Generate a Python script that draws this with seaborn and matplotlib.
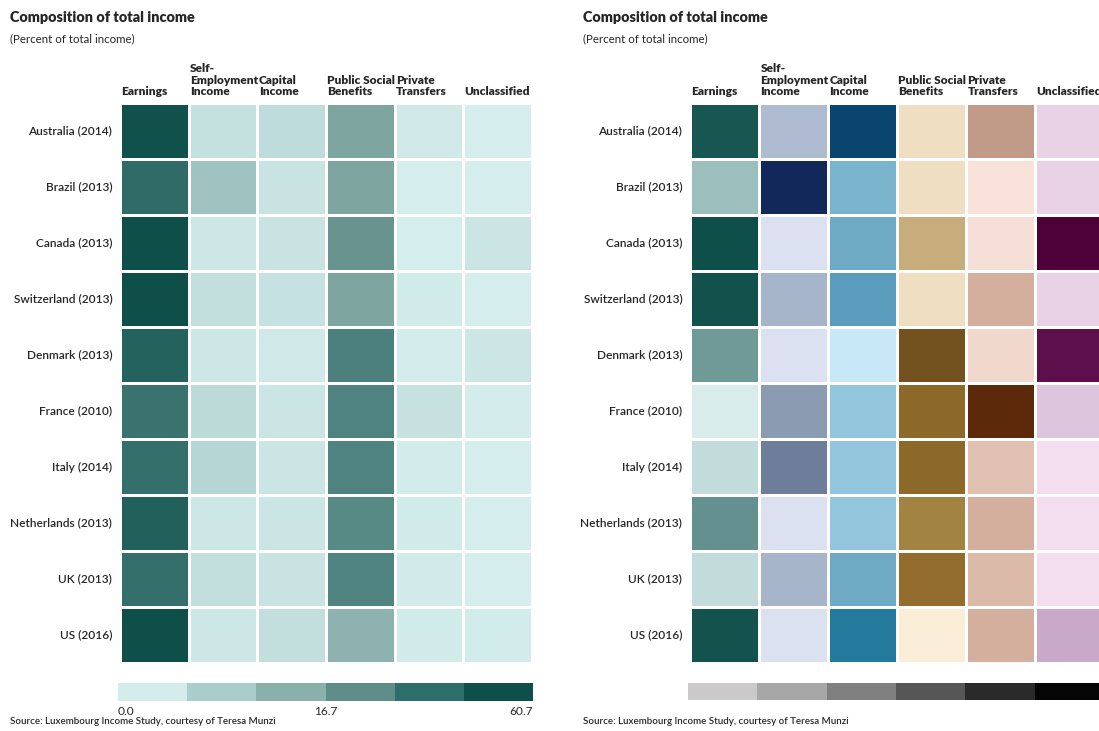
import numpy as np
import pandas as pd
import seaborn as sns
import matplotlib.pyplot as plt
from matplotlib.colors import LinearSegmentedColormap, ListedColormap, BoundaryNorm, TwoSlopeNorm
from matplotlib.cm import ScalarMappable

sns.set_style("white")
plt.rcParams["font.family"] = ["Lato", "DejaVu Sans"]

countries = ["Australia (2014)", "Brazil (2013)", "Canada (2013)", "Switzerland (2013)",
             "Denmark (2013)", "France (2010)", "Italy (2014)", "Netherlands (2013)",
             "UK (2013)", "US (2016)"]
headers = ["Earnings", "Self-\nEmployment\nIncome", "Capital\nIncome",
           "Public Social\nBenefits", "Private\nTransfers", "Unclassified"]

# percent of total income
earnings = [60.0, 49.0, 60.7, 60.5, 53.5, 44.0, 46.5, 54.5, 46.5, 60.4]
self_emp = [6.0, 13.5, 3.5, 6.5, 3.5, 8.5, 10.0, 3.5, 6.5, 3.5]
capital = [7.5, 4.6, 4.85, 5.4, 2.5, 4.1, 4.1, 4.1, 4.85, 6.45]
public = [17.5, 17.5, 23.0, 17.5, 33.0, 30.5, 30.5, 28.0, 30.0, 15.5]
private = [2.5, 0.6, 0.7, 2.0, 0.9, 5.5, 1.5, 2.0, 1.7, 2.0]
unclass = [0.6, 0.6, 4.0, 0.6, 3.7, 0.9, 0.3, 0.3, 0.3, 1.5]

legend_ticks = ["0.0", "16.7", "60.7"]

df = pd.DataFrame({"Earnings": earnings, "Self-Employment Income": self_emp,
                   "Capital Income": capital, "Public Social Benefits": public,
                   "Private Transfers": private, "Unclassified": unclass},
                  index=countries)

# shared teal scale (left)
teal = LinearSegmentedColormap.from_list("teal", [
    (0.0, "#d6eeee"), (0.105, "#cde6e6"), (0.30, "#b5d6d4"), (0.40, "#a0c4c2"),
    (0.50, "#82a8a4"), (0.57, "#6a9490"), (0.65, "#508480"), (0.80, "#3c7470"),
    (0.90, "#2a6762"), (1.0, "#0f4f4a")])
teal_legend = ["#d4ecec", "#a9cdca", "#8ab0ab", "#5f8e8a", "#2e6e6a", "#0f4f4a"]
gray_legend = ["#cbc9ca", "#a7a7a7", "#808080", "#565656", "#2a2a2a", "#050505"]

# one scale per column (right)
col_cmaps = [
    [(0, "#d8ecea"), (0.15, "#c2dcdc"), (0.3, "#9bbfbd"), (0.6, "#6a9694"), (1, "#0f4f4a")],
    [(0, "#dce1f2"), (0.25, "#aebbd0"), (0.5, "#8a9bb2"), (0.65, "#6e7e9a"), (1, "#12285a")],
    [(0, "#c8e8f8"), (0.32, "#93c5dd"), (0.47, "#6eaac4"), (0.58, "#5b9bbb"), (0.79, "#247b9c"), (1, "#0a4570")],
    [(0, "#fbeed8"), (0.11, "#efdfc2"), (0.43, "#c6ad7a"), (0.71, "#a48442"), (0.85, "#8f6a2a"), (1, "#74521f")],
    [(0, "#f9e2da"), (0.18, "#e1c2b2"), (0.29, "#d4ae9c"), (0.43, "#b99280"), (1, "#5c2a0a")],
    [(0, "#f2deee"), (0.083, "#e8d0e6"), (0.167, "#dcc4dc"), (0.33, "#c8a8c8"), (0.92, "#5c0f4a"), (1, "#4e0038")],
]

W, H = 1099, 731
fig = plt.figure(figsize=(W / 100, H / 100), dpi=100)


def box(x0, y0, x1, y1):
    return [x0 / W, 1 - y1 / H, (x1 - x0) / W, (y1 - y0) / H]


def style_panel(ax, x0):
    ax.set_xticks([])
    ax.set_ylabel("")
    ax.tick_params(axis="y", length=0, pad=5.5)
    for lab in ax.get_yticklabels():
        lab.set_fontsize(8.6)
        lab.set_fontweight("semibold")
        lab.set_rotation(0)
    for j, h in enumerate(headers):
        ax.text(j + 0.02, -0.1, h, ha="left", va="bottom", fontsize=8.6,
                fontweight="heavy", linespacing=1.05)
    fig.text(x0 / W, 1 - 18 / H, "Composition of total income", fontsize=10.4,
             fontweight="heavy", va="center")
    fig.text(x0 / W, 1 - 39 / H, "(Percent of total income)", fontsize=8.3, va="center")
    fig.text(x0 / W, 1 - 722 / H, "Source: Luxembourg Income Study, courtesy of Teresa Munzi",
             fontsize=7, fontweight="semibold", va="center")


# left panel
ax1 = fig.add_axes(box(120, 103, 532, 663))
sns.heatmap(df, ax=ax1, cmap=teal, norm=TwoSlopeNorm(vmin=0, vcenter=16.7, vmax=60.7),
            cbar=False, linewidths=1.0, linecolor="white", xticklabels=False,
            yticklabels=countries)
style_panel(ax1, 10)

cax1 = fig.add_axes(box(118, 683, 533, 701))
cb1 = fig.colorbar(ScalarMappable(norm=BoundaryNorm(range(7), 6), cmap=ListedColormap(teal_legend)),
                   cax=cax1, orientation="horizontal")
cb1.outline.set_visible(False)
cb1.set_ticks([])
cax1.minorticks_off()
cax1.tick_params(length=0, which="both")
cax1.text(0, -0.3, legend_ticks[0], ha="left", va="top", fontsize=8.6, transform=cax1.transAxes)
cax1.text(0.5, -0.3, legend_ticks[1], ha="center", va="top", fontsize=8.6, transform=cax1.transAxes)
cax1.text(1, -0.3, legend_ticks[2], ha="right", va="top", fontsize=8.6, transform=cax1.transAxes)

# right panel: each column on its own scale
ax2 = fig.add_axes(box(690, 103, 1104, 663))
for j, col in enumerate(df.columns):
    mask = np.ones(df.shape, dtype=bool)
    mask[:, j] = False
    cm = LinearSegmentedColormap.from_list(col, col_cmaps[j])
    sns.heatmap(df, ax=ax2, mask=mask, cmap=cm, vmin=df[col].min(), vmax=df[col].max(),
                cbar=False, linewidths=1.0, linecolor="white", xticklabels=False,
                yticklabels=countries)
style_panel(ax2, 583)

cax2 = fig.add_axes(box(688, 683, 1104, 700))
cb2 = fig.colorbar(ScalarMappable(norm=BoundaryNorm(range(7), 6), cmap=ListedColormap(gray_legend)),
                   cax=cax2, orientation="horizontal")
cb2.outline.set_visible(False)
cb2.set_ticks([])
cax2.minorticks_off()
cax2.tick_params(length=0, which="both")

fig.savefig("out.png", dpi=100)
